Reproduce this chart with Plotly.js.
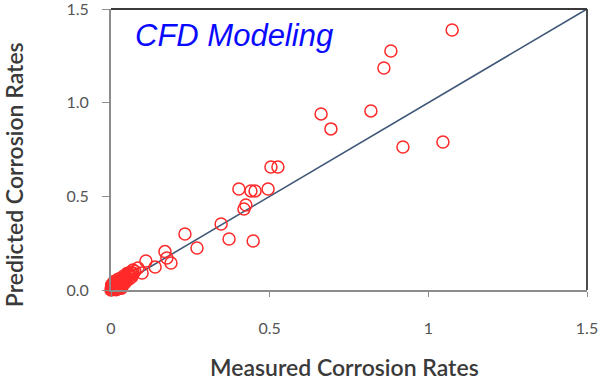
<!DOCTYPE html>
<html>
<head>
<meta charset="utf-8">
<script src="https://cdn.plot.ly/plotly-3.0.1.min.js"></script>
<style>
  html, body { margin: 0; padding: 0; background: #ffffff; }
  #chart { width: 603px; height: 382px; }
</style>
</head>
<body>
<div id="chart"></div>
<script>
// Measured vs. predicted corrosion rates (CFD model)
const measured = [
  1.075, 0.882, 0.860, 0.662, 0.819, 0.693, 1.046, 0.920, 0.526, 0.504,
  0.403, 0.441, 0.454, 0.495, 0.425, 0.419, 0.347, 0.233, 0.372, 0.448,
  0.271, 0.170, 0.176, 0.189, 0.110, 0.139, 0.098, 0.085, 0.069, 0.054,
  0.005, 0.008, 0.010, 0.012, 0.015, 0.018, 0.020, 0.022, 0.025, 0.028,
  0.030, 0.032, 0.035, 0.038, 0.040, 0.042, 0.045, 0.048, 0.050, 0.055,
  0.058, 0.060, 0.065, 0.003, 0.006, 0.014, 0.002, 0.016, 0.025, 0.035,
  0.045, 0.070, 0.075, 0.000, 0.010, 0.020, 0.004, 0.007, 0.012, 0.018,
  0.026, 0.033, 0.040, 0.052, 0.062, 0.068, 0.001, 0.009
];
const predicted = [
  1.388, 1.276, 1.185, 0.940, 0.956, 0.860, 0.790, 0.763, 0.657, 0.657,
  0.539, 0.529, 0.529, 0.539, 0.454, 0.432, 0.352, 0.299, 0.272, 0.262,
  0.224, 0.205, 0.171, 0.144, 0.155, 0.123, 0.091, 0.117, 0.107, 0.085,
  0.010, 0.020, 0.005, 0.025, 0.012, 0.030, 0.018, 0.040, 0.022, 0.035,
  0.050, 0.028, 0.045, 0.060, 0.035, 0.055, 0.070, 0.050, 0.065, 0.075,
  0.060, 0.080, 0.070, 0.003, 0.015, 0.035, 0.025, 0.002, 0.008, 0.020,
  0.040, 0.090, 0.100, 0.000, 0.045, 0.055, 0.030, 0.008, 0.015, 0.045,
  0.060, 0.010, 0.075, 0.090, 0.095, 0.080, 0.012, 0.035
];

// 1:1 reference line
const parityX = [0, 1.5];
const parityY = [0, 1.5];

const xTickVals = [0, 0.5, 1, 1.5];
const xTickText = ['0', '0.5', '1', '1.5'];
const yTickVals = [0, 0.5, 1, 1.5];
const yTickText = ['0.0', '0.5', '1.0', '1.5'];

const tickFont = { family: 'Lato, "Open Sans", sans-serif', size: 16, color: '#555555' };
const titleFont = { family: 'Lato, "Open Sans", sans-serif', size: 23, color: '#3a3a3a', weight: 600 };

const traces = [
  {
    x: parityX, y: parityY,
    type: 'scatter', mode: 'lines',
    line: { color: '#3f5877', width: 1.6 },
    hoverinfo: 'skip', showlegend: false
  },
  {
    x: measured, y: predicted,
    type: 'scatter', mode: 'markers',
    marker: {
      symbol: 'circle-open', size: 12,
      color: '#ff2a2a', line: { color: '#ff2a2a', width: 1.5 }
    },
    cliponaxis: false,
    showlegend: false
  }
];

const layout = {
  width: 603, height: 382,
  margin: { l: 111, r: 16, t: 9, b: 92 },
  paper_bgcolor: '#ffffff', plot_bgcolor: '#ffffff',
  showlegend: false,
  xaxis: {
    range: [0, 1.5], tickvals: xTickVals, ticktext: xTickText,
    showgrid: false, zeroline: false,
    showline: true, linecolor: '#8c8c8c', linewidth: 2,
    ticks: 'outside', ticklen: 5, tickcolor: '#8c8c8c', tickwidth: 1,
    ticklabelstandoff: 18, ticklabeloverflow: 'allow',
    tickfont: tickFont
  },
  yaxis: {
    range: [0, 1.5], tickvals: yTickVals, ticktext: yTickText,
    showgrid: false, zeroline: false,
    showline: true, linecolor: '#8c8c8c', linewidth: 2,
    ticks: 'outside', ticklen: 7, tickcolor: '#8c8c8c', tickwidth: 1,
    ticklabelstandoff: 10, ticklabeloverflow: 'allow',
    tickfont: tickFont
  },
  shapes: [
    { type: 'line', xref: 'paper', yref: 'paper', x0: 0, x1: 1, y0: 1, y1: 1,
      line: { color: '#3a3a3a', width: 1.8 } },
    { type: 'line', xref: 'paper', yref: 'paper', x0: 1, x1: 1, y0: 0, y1: 1,
      line: { color: '#3a3a3a', width: 1.8 } }
  ],
  annotations: [
    {
      text: 'CFD Modeling', xref: 'paper', yref: 'paper',
      x: 0.047, y: 0.905, xanchor: 'left', yanchor: 'middle', showarrow: false,
      font: { family: '"Liberation Sans", Arial, sans-serif', size: 31, color: '#0a0aff', style: 'italic' }
    },
    {
      text: 'Measured Corrosion Rates', xref: 'paper', yref: 'paper',
      x: 0.49, y: -0.275, xanchor: 'center', yanchor: 'middle', showarrow: false,
      font: titleFont
    },
    {
      text: 'Predicted Corrosion Rates', xref: 'paper', yref: 'paper',
      x: -0.205, y: 0.41, xanchor: 'center', yanchor: 'middle', showarrow: false,
      textangle: -90,
      font: titleFont
    }
  ]
};

Plotly.newPlot('chart', traces, layout, { staticPlot: true, displayModeBar: false });
</script>
</body>
</html>
